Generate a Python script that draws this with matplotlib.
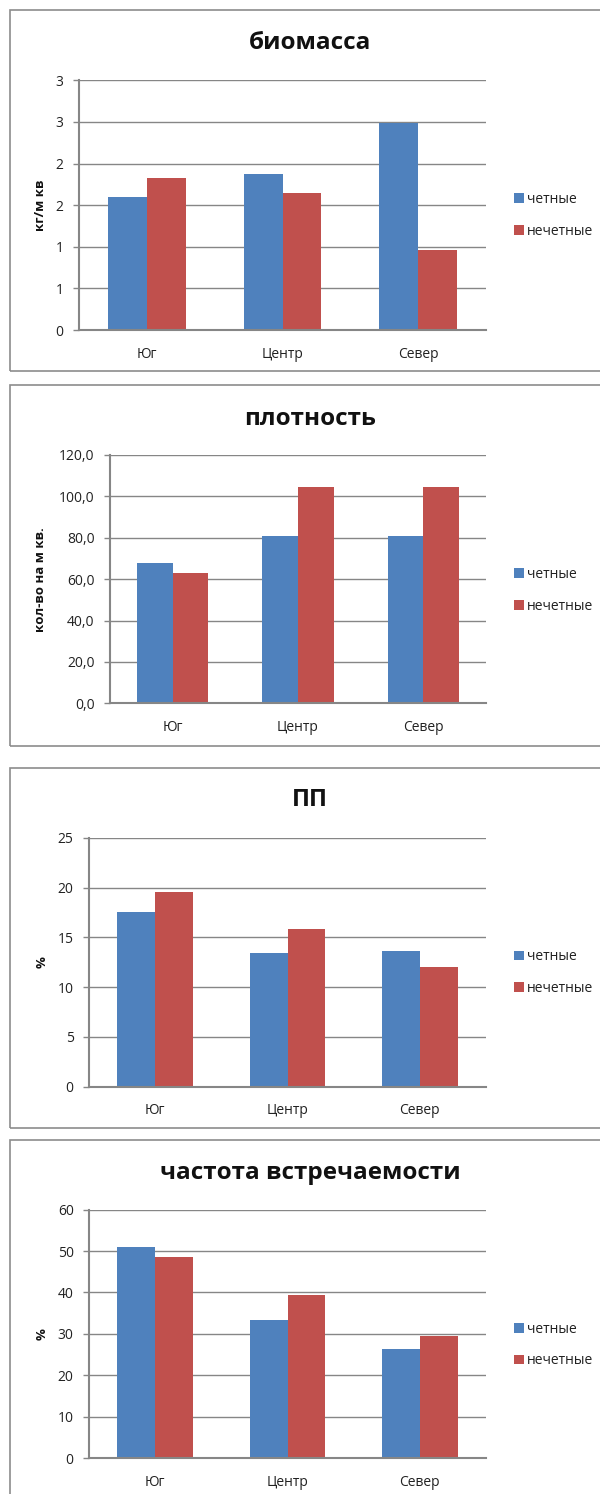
import matplotlib.pyplot as plt
from matplotlib.patches import Rectangle

plt.rcParams['font.family'] = ['Open Sans', 'DejaVu Sans']

W, H = 600, 1494

regions = ['Юг', 'Центр', 'Север']
series = ['четные', 'нечетные']
colors = ['#4F81BD', '#C0504D']

biomass_even = [1.60, 1.87, 2.49]
biomass_odd = [1.83, 1.64, 0.96]
biomass_ticks = [0, 0.5, 1.0, 1.5, 2.0, 2.5, 3.0]
biomass_labels = ['0', '1', '1', '2', '2', '3', '3']

density_even = [67.7, 81.0, 81.0]
density_odd = [63.0, 104.4, 104.4]
density_ticks = [0, 20, 40, 60, 80, 100, 120]
density_labels = ['0,0', '20,0', '40,0', '60,0', '80,0', '100,0', '120,0']

pp_even = [17.5, 13.4, 13.65]
pp_odd = [19.5, 15.8, 12.0]
pp_ticks = [0, 5, 10, 15, 20, 25]
pp_labels = ['0', '5', '10', '15', '20', '25']

freq_even = [51.1, 33.3, 26.3]
freq_odd = [48.6, 39.3, 29.6]
freq_ticks = [0, 10, 20, 30, 40, 50, 60]
freq_labels = ['0', '10', '20', '30', '40', '50', '60']


def fig_box(x0, y0, x1, y1):
    # pixel box (top-left origin) -> figure fraction rect
    return [x0 / W, 1 - y1 / H, (x1 - x0) / W, (y1 - y0) / H]


fig = plt.figure(figsize=(W / 100, H / 100), dpi=100)

panels = [
    # title, ylabel, values, ticks, labels, frame, axes box, title y, ylabel x, legend y
    ('биомасса', 'кг/м кв', (biomass_even, biomass_odd), biomass_ticks, biomass_labels,
     (10, 10, 605, 371), (79, 80.3, 486, 330), 43, 41, 215.5),
    ('плотность', 'кол-во на м кв.', (density_even, density_odd), density_ticks, density_labels,
     (10, 385, 605, 746), (110, 455, 486, 703.3), 419, 41, 590.5),
    ('ПП', '%', (pp_even, pp_odd), pp_ticks, pp_labels,
     (10, 768, 605, 1128), (89, 837.7, 486, 1086.7), 800, 42, 972.8),
    ('частота встречаемости', '%', (freq_even, freq_odd), freq_ticks, freq_labels,
     (10, 1140, 605, 1500), (89, 1209.7, 486, 1458), 1173, 42, 1345),
]

bw = 1 / 3.5  # Excel gap width 150%
for title, ylab, vals, ticks, tlabels, frame, box, ty, yx, ly in panels:
    fx0, fy0, fx1, fy1 = frame
    r = fig_box(fx0, fy0, fx1, fy1)
    fig.patches.append(Rectangle((r[0], r[1]), r[2], r[3], transform=fig.transFigure,
                                 fill=False, edgecolor='#8c8c8c', lw=1.2, zorder=0))

    ax = fig.add_axes(fig_box(*box))
    x = range(len(regions))
    for i, (v, c, name) in enumerate(zip(vals, colors, series)):
        ax.bar([k + (i - 0.5) * bw for k in x], v, width=bw, color=c,
               label=name, zorder=3)

    ax.set_xlim(-0.5, 2.5)
    ax.set_ylim(ticks[0], ticks[-1])
    ax.set_yticks(ticks)
    ax.set_yticklabels(tlabels)
    ax.set_xticks(list(x))
    ax.set_xticklabels(regions)
    ax.tick_params(axis='x', length=0, pad=12, labelsize=10, labelcolor='#222222')
    ax.tick_params(axis='y', length=4, width=1, color='#868686', pad=7,
                   labelsize=10, labelcolor='#222222')
    ax.yaxis.grid(True, color='#868686', lw=1, zorder=0)
    ax.set_axisbelow(True)
    for s in ['top', 'right']:
        ax.spines[s].set_visible(False)
    for s in ['left', 'bottom']:
        ax.spines[s].set_color('#868686')
        ax.spines[s].set_linewidth(1.5)
        ax.spines[s].set_zorder(4)

    fig.text(310 / W, 1 - ty / H, title, ha='center', va='center',
             fontsize=17.5, fontweight='bold', color='#111111')
    fig.text(yx / W, 1 - (box[1] + box[3]) / 2 / H, ylab, ha='center', va='center',
             rotation=90, fontsize=9.5, fontweight='bold', color='#111111')

    ax.legend(loc='center left', bbox_to_anchor=(514 / W, 1 - ly / H),
              bbox_transform=fig.transFigure, frameon=False, borderaxespad=0,
              borderpad=0, handlelength=0.7, handleheight=0.7, handletextpad=0.25,
              labelspacing=1.2, fontsize=10, labelcolor='#222222')

fig.savefig('out.png', dpi=100, facecolor='white')
